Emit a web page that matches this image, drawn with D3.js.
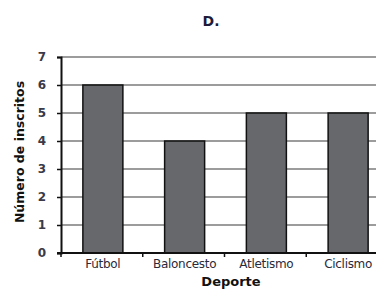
<!DOCTYPE html>
<html>
<head>
<meta charset="utf-8">
<script src="https://cdn.jsdelivr.net/npm/d3@7"></script>
<style>
  body { margin: 0; background: #fff; }
  text { font-family: "DejaVu Sans", sans-serif; }
</style>
</head>
<body>
<div id="chart"></div>
<script>
// sports and how many people signed up for each
var deportes = ['Fútbol', 'Baloncesto', 'Atletismo', 'Ciclismo'];
var inscritos = [6, 4, 5, 5];
var yTicks = [0, 1, 2, 3, 4, 5, 6, 7];

var width = 376;
var height = 290;

var svg = d3.select('#chart')
  .append('svg')
  .attr('width', width)
  .attr('height', height);

//band scale runs past the right edge, like the picture
var x = d3.scaleBand()
  .domain(deportes)
  .range([62, 389])
  .paddingInner(0.5)
  .paddingOuter(0.25);

var y = d3.scaleLinear()
  .domain([0, 7])
  .range([253, 57]);

//grid lines
svg.selectAll('line.grid')
  .data(yTicks.slice(1))
  .enter()
  .append('line')
  .attr('class', 'grid')
  .attr('x1', 61)
  .attr('x2', width)
  .attr('y1', function(d) { return y(d); })
  .attr('y2', function(d) { return y(d); })
  .attr('stroke', '#3a3a3a')
  .attr('stroke-width', 1.2);

//bars
svg.selectAll('rect.bar')
  .data(inscritos)
  .enter()
  .append('rect')
  .attr('class', 'bar')
  .attr('x', function(d, i) { return x(deportes[i]) + x.bandwidth() * 0.5 - 20; })
  .attr('width', 40)
  .attr('y', function(d) { return y(d); })
  .attr('height', function(d) { return y(0) - y(d); })
  .attr('fill', '#67686b')
  .attr('stroke', '#111')
  .attr('stroke-width', 1.5);

//y axis
var yAxis = d3.axisLeft(y)
  .tickValues(yTicks)
  .tickFormat(d3.format('d'))
  .tickSize(4)
  .tickPadding(11);

var gy = svg.append('g')
  .attr('transform', 'translate(61,0)')
  .call(yAxis);
gy.select('.domain').attr('stroke', '#111').attr('stroke-width', 2);
gy.selectAll('.tick line').attr('stroke', '#111').attr('stroke-width', 1.5);
gy.selectAll('.tick text')
  .attr('font-family', '"DejaVu Sans", sans-serif')
  .attr('font-size', 12)
  .attr('font-weight', 'bold')
  .attr('fill', '#3a3a48');

//x axis, ticks between the categories
var xAxisScale = d3.scaleLinear().domain([0, 4]).range([61, 61 + x.step() * 4]);
svg.append('line')
  .attr('x1', 57)
  .attr('x2', width)
  .attr('y1', y(0))
  .attr('y2', y(0))
  .attr('stroke', '#111')
  .attr('stroke-width', 2);

svg.selectAll('line.xtick')
  .data([0, 1, 2, 3])
  .enter()
  .append('line')
  .attr('class', 'xtick')
  .attr('x1', function(d) { return xAxisScale(d); })
  .attr('x2', function(d) { return xAxisScale(d); })
  .attr('y1', y(0))
  .attr('y2', y(0) + 4)
  .attr('stroke', '#111')
  .attr('stroke-width', 1.5);

svg.selectAll('text.xlabel')
  .data(deportes)
  .enter()
  .append('text')
  .attr('class', 'xlabel')
  .attr('x', function(d) { return x(d) + x.bandwidth() / 2; })
  .attr('y', 268)
  .attr('text-anchor', 'middle')
  .attr('font-size', 12)
  .attr('letter-spacing', -0.3)
  .attr('fill', '#2a2a3a')
  .text(function(d) { return d; });

//titles
svg.append('text')
  .attr('x', 211)
  .attr('y', 26)
  .attr('text-anchor', 'middle')
  .attr('font-size', 14)
  .attr('font-weight', 'bold')
  .attr('fill', '#1c1c3a')
  .text('D.');

svg.append('text')
  .attr('x', 231)
  .attr('y', 286)
  .attr('text-anchor', 'middle')
  .attr('font-size', 13)
  .attr('font-weight', 'bold')
  .attr('fill', '#111')
  .text('Deporte');

svg.append('text')
  .attr('transform', 'translate(24,152) rotate(-90)')
  .attr('text-anchor', 'middle')
  .attr('font-size', 12.5)
  .attr('font-weight', 'bold')
  .attr('fill', '#111')
  .text('Número de inscritos');
</script>
</body>
</html>
